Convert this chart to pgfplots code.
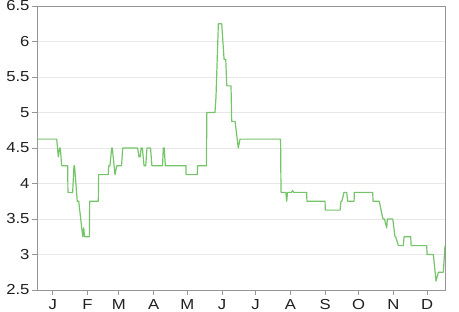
\documentclass[border=0pt]{standalone}
\usepackage{fontspec}
\setmainfont{Liberation Sans}[FakeStretch=1.15]
\usepackage{pgfplots}
\pgfplotsset{compat=1.18}
\definecolor{linegreen}{RGB}{116,196,104}
\definecolor{axisgray}{RGB}{150,150,150}
\definecolor{gridgray}{RGB}{232,232,232}
\begin{document}
\begin{tikzpicture}[x=1pt,y=1pt]
\path[use as bounding box] (0,0) rectangle (459,312);
\begin{axis}[
  at={(37pt,22pt)}, anchor=south west,
  scale only axis, width=408pt, height=284pt,
  xmin=-14, xmax=350, ymin=2.5, ymax=6.5,
  ytick={2.5,3,3.5,4,4.5,5,5.5,6,6.5},
  xtick={0,31,59,90,120,151,181,212,243,273,304,334},
  xticklabels={J,F,M,A,M,J,J,A,S,O,N,D},
  ymajorgrids, grid style={gridgray, line width=0.6pt},
  axis line style={axisgray, line width=0.8pt},
  tick style={axisgray, line width=0.7pt},
  major tick length=5pt,
  xtick pos=bottom, ytick pos=left, tick align=outside,
  /pgf/number format/assume math mode=true,
  /pgf/number format/fixed,
  ticklabel style={font=\fontsize{14.5}{16}\selectfont, text=black!88},
  yticklabel style={xshift=1pt},
  xticklabel style={yshift=-0.5pt},
]
\addplot[linegreen, line width=1.2pt, line join=round] coordinates {
(-14,4.625)(3.6,4.625)(5.0,4.375)(6.2,4.5)(6.8,4.5)(8.0,4.25)(13.4,4.25)(13.6,3.875)(17.8,3.875)(19.0,4.25)(19.5,4.25)(21.9,3.75)(23.2,3.75)(26.8,3.25)(27.7,3.375)(28.4,3.25)(32.7,3.25)(33.0,3.75)(40.7,3.75)(41.0,4.125)(49.6,4.125)(50,4.25)(51.1,4.25)(52.6,4.5)(53.2,4.5)(55.6,4.125)(57.1,4.25)(61.4,4.25)(62.5,4.5)
(75.7,4.5)(77.0,4.375)(78.0,4.375)(78.9,4.5)(80,4.5)(81.5,4.25)(83,4.25)(84.1,4.5)(87.3,4.5)(88.5,4.25)(98.0,4.25)(98.7,4.5)(99.5,4.5)(100.5,4.25)(118.9,4.25)(119,4.125)(129,4.125)(129.2,4.25)(137.2,4.25)(137.5,5.0)(144.8,5.0)(145.7,5.22)(147.8,6.25)(150.8,6.25)(152.9,5.75)(154.4,5.75)(155.3,5.375)(159.1,5.375)(159.7,4.875)(162.7,4.875)(165.6,4.5)(167.1,4.625)
(203.3,4.625)(203.7,3.875)(208,3.875)(208.8,3.75)(209.5,3.875)(213,3.875)(214,3.9)(215,3.875)(226.6,3.875)(226.8,3.75)(243,3.75)(243.2,3.625)(256.4,3.625)(257.2,3.75)(258,3.75)(259.9,3.875)(262.3,3.875)(263.2,3.75)(268.9,3.75)(269.1,3.875)
(285.5,3.875)(285.8,3.75)(291.4,3.75)(292.9,3.625)(294.7,3.5)(296,3.5)(298,3.375)(298.6,3.5)(303.4,3.5)(305.4,3.25)(306,3.25)(308.4,3.125)(312.8,3.125)(313.5,3.25)(319.4,3.25)(319.8,3.125)(333.7,3.125)(334,3.0)(339.6,3.0)(342,2.625)(344.1,2.75)(348.5,2.75)(350,3.125)
};
\draw[axisgray, line width=0.8pt] (rel axis cs:0,1) -- (rel axis cs:1,1) -- (rel axis cs:1,0);
\end{axis}
\end{tikzpicture}
\end{document}
